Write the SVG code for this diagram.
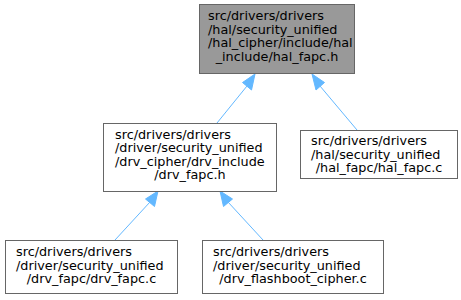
<svg xmlns="http://www.w3.org/2000/svg" width="461" height="300" viewBox="0 0 461 300">
<style>
  text { font-family: "DejaVu Sans", sans-serif; font-size: 12.8px; fill: #000000; }
  .l { text-anchor: start; }
  .m { text-anchor: middle; }
  .box { fill: #ffffff; stroke: #666666; stroke-width: 1; }
  .cur { fill: #999999; stroke: #666666; stroke-width: 1; }
  .edge { stroke: #63b8ff; stroke-width: 1; fill: none; }
  .head { fill: #63b8ff; stroke: #63b8ff; stroke-width: 1; }
</style>
<rect width="461" height="300" fill="#ffffff"/>
<g id="connectors">
  <line class="edge" x1="217" y1="123" x2="247" y2="86"/>
  <polygon class="head" points="255,74 251.5,90 242.5,82.5"/>
  <line class="edge" x1="357" y1="130" x2="320" y2="86"/>
  <polygon class="head" points="312,74 324.5,82.5 316,90"/>
  <line class="edge" x1="115" y1="240" x2="150" y2="202"/>
  <polygon class="head" points="158,191 154.5,206.5 145.5,199"/>
  <line class="edge" x1="263" y1="240" x2="228" y2="202"/>
  <polygon class="head" points="220,191 232.5,199 223.5,206.5"/>
</g>
<g id="node1">
  <rect class="cur" x="199.5" y="4.5" width="155" height="69"/>
  <text class="l" x="208" y="20">src/drivers/drivers</text>
  <text class="l" x="208" y="33.5">/hal/security_unified</text>
  <text class="l" x="208" y="47">/hal_cipher/include/hal</text>
  <text class="m" x="277" y="60.5">_include/hal_fapc.h</text>
</g>
<g id="node2">
  <rect class="box" x="103.5" y="123.5" width="173" height="68"/>
  <text class="l" x="115" y="138.5">src/drivers/drivers</text>
  <text class="l" x="115" y="152">/driver/security_unified</text>
  <text class="l" x="115" y="165.5">/drv_cipher/drv_include</text>
  <text class="m" x="190" y="179">/drv_fapc.h</text>
</g>
<g id="node3">
  <rect class="box" x="5.5" y="240.5" width="172" height="53"/>
  <text class="l" x="16" y="256">src/drivers/drivers</text>
  <text class="l" x="16" y="269.5">/driver/security_unified</text>
  <text class="m" x="91.5" y="283">/drv_fapc/drv_fapc.c</text>
</g>
<g id="node4">
  <rect class="box" x="202.5" y="240.5" width="181" height="53"/>
  <text class="l" x="213" y="256">src/drivers/drivers</text>
  <text class="l" x="213" y="269.5">/driver/security_unified</text>
  <text class="m" x="293" y="283">/drv_flashboot_cipher.c</text>
</g>
<g id="node5">
  <rect class="box" x="300.5" y="130.5" width="157" height="48"/>
  <text class="l" x="311" y="145">src/drivers/drivers</text>
  <text class="l" x="311" y="158.5">/hal/security_unified</text>
  <text class="m" x="379" y="172">/hal_fapc/hal_fapc.c</text>
</g>
</svg>
